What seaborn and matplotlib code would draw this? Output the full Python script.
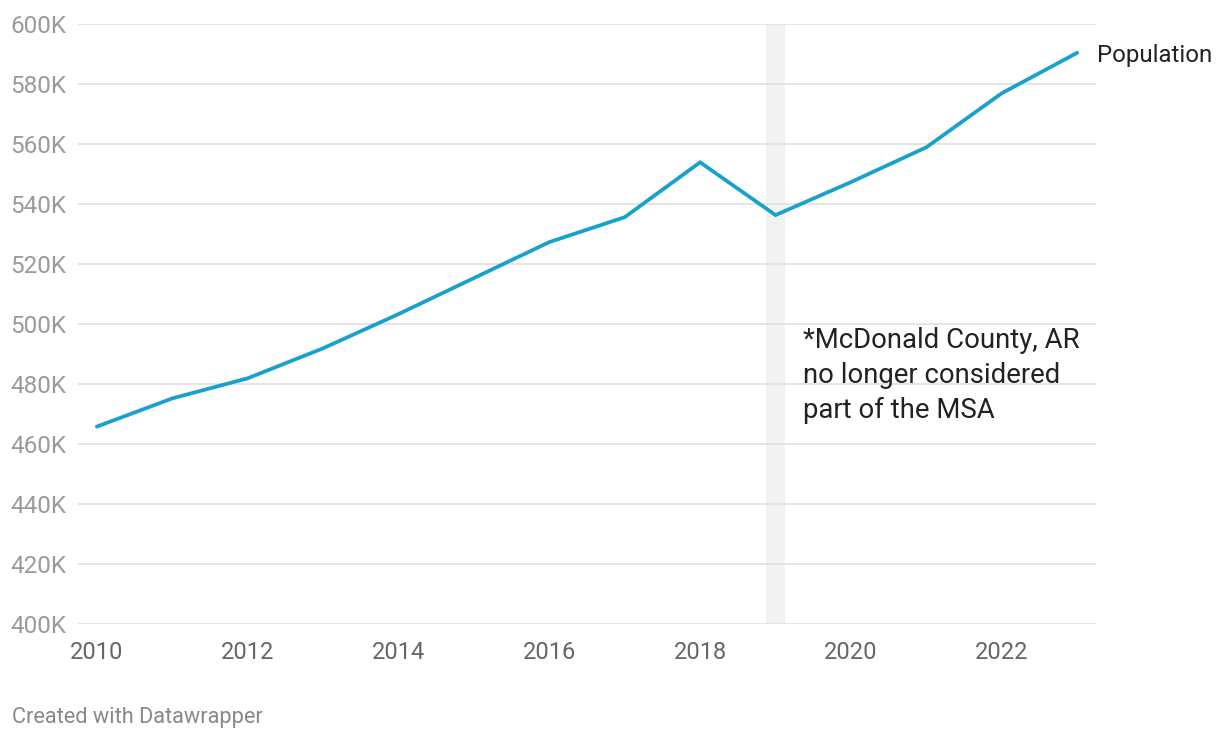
import matplotlib
matplotlib.use("Agg")
import matplotlib.pyplot as plt
import seaborn as sns
import pandas as pd

years = [2010, 2011, 2012, 2013, 2014, 2015, 2016, 2017, 2018, 2019, 2020, 2021, 2022, 2023]
population = [465800, 475200, 481900, 491900, 503300, 515300, 527300, 535600, 553900, 536300, 547300, 558900, 576900, 590400]
y_ticks = [400000, 420000, 440000, 460000, 480000, 500000, 520000, 540000, 560000, 580000, 600000]
y_labels = ["400K", "420K", "440K", "460K", "480K", "500K", "520K", "540K", "560K", "580K", "600K"]
x_ticks = [2010, 2012, 2014, 2016, 2018, 2020, 2022]
series_label = "Population"
note = "*McDonald County, AR\nno longer considered\npart of the MSA"
credit = "Created with Datawrapper"

sns.set_theme(style="white")
plt.rcParams['font.family'] = ['Roboto', 'DejaVu Sans']

df = pd.DataFrame({"year": years, "population": population})

fig = plt.figure(figsize=(12.2, 7.4), dpi=100)
ax = fig.add_axes([78 / 1220, 1 - 624 / 740, (1096 - 78) / 1220, 600 / 740])

ax.axvspan(2018.87, 2019.13, color="#f2f2f2", zorder=0, lw=0)
for t in y_ticks:
    ax.axhline(t, color="#e3e3e3", lw=1.3, zorder=1)

sns.lineplot(data=df, x="year", y="population", ax=ax, color="#18a1cd", lw=2.7, zorder=3,
             solid_joinstyle="miter")

ax.set_xlim(2009.75, 2023.25)
ax.set_ylim(400000, 600000)
ax.set_yticks(y_ticks)
ax.set_yticklabels(y_labels)
ax.set_xticks(x_ticks)
ax.set_xticklabels([str(x) for x in x_ticks])
ax.tick_params(axis="y", length=0, pad=8.5, labelsize=17.5, labelcolor="#9a9a9a")
ax.tick_params(axis="x", length=0, pad=12, labelsize=17, labelcolor="#666666")
ax.set_xlabel("")
ax.set_ylabel("")
for s in ax.spines.values():
    s.set_visible(False)
ax.grid(False)

ax.text(2023.26, 587200, series_label, fontsize=17.3, color="#222222",
        va="baseline", ha="left", clip_on=False)
ax.text(2019.37, 499000, note, fontsize=19.8, color="#222222", va="top", ha="left",
        linespacing=1.38)

fig.text(12 / 1220, 1 - 717 / 740, credit, fontsize=15.7, color="#888888", va="center", ha="left")

fig.savefig("out.png", dpi=100)
